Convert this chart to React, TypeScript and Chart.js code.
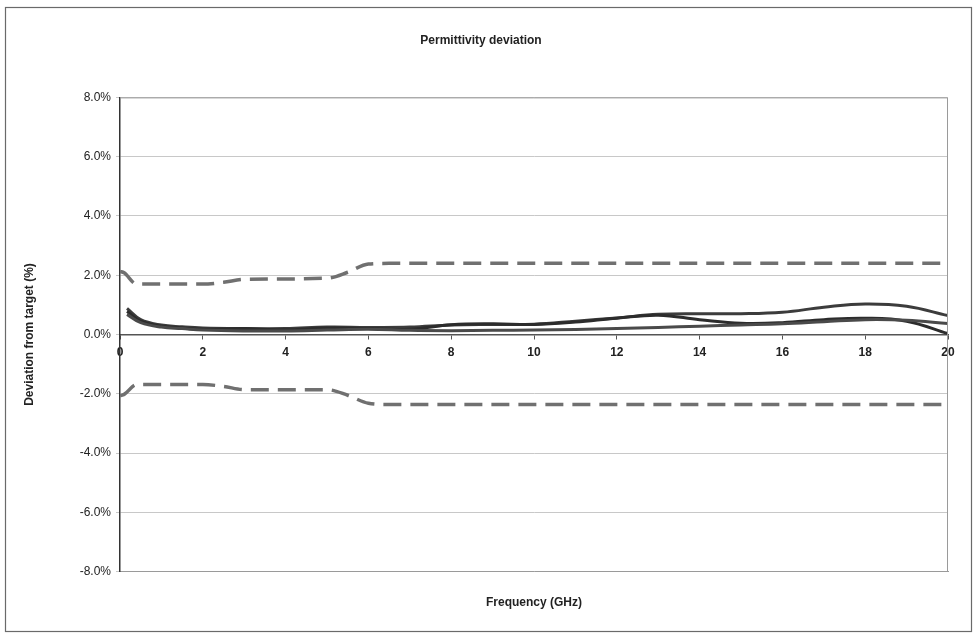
import React, { useEffect, useRef } from "react";
import { Chart, registerables } from "chart.js";

Chart.register(...registerables);

const FREQ = [0.17, 0.5, 1, 1.5, 2, 3, 4, 5, 6, 7, 8, 9, 10, 11, 12, 13, 14, 15, 16, 17, 18, 19, 20];
const SERIES_A = [0.88, 0.5, 0.32, 0.26, 0.22, 0.2, 0.2, 0.25, 0.24, 0.25, 0.32, 0.34, 0.35, 0.45, 0.56, 0.68, 0.7, 0.7, 0.75, 0.92, 1.03, 0.95, 0.64];
const SERIES_B = [0.78, 0.45, 0.28, 0.22, 0.18, 0.2, 0.16, 0.22, 0.2, 0.18, 0.33, 0.36, 0.34, 0.42, 0.55, 0.65, 0.5, 0.38, 0.4, 0.5, 0.55, 0.45, 0.03];
const SERIES_C = [0.68, 0.4, 0.25, 0.2, 0.15, 0.12, 0.12, 0.15, 0.18, 0.14, 0.13, 0.14, 0.15, 0.17, 0.2, 0.24, 0.28, 0.32, 0.36, 0.43, 0.5, 0.48, 0.37];

const LIMIT_FREQ = [0, 0.1, 0.4, 2, 2.5, 3, 5, 5.5, 6, 6.5, 20];
const UPPER_LIMIT = [2.13, 2.08, 1.7, 1.7, 1.76, 1.86, 1.9, 2.1, 2.38, 2.4, 2.4];
const LOWER_LIMIT = [-2.07, -2.02, -1.69, -1.69, -1.75, -1.86, -1.86, -2.05, -2.32, -2.36, -2.36];

const Y_MIN = -8;
const Y_MAX = 8;
const X_MIN = 0;
const X_MAX = 20;

const TITLE = "Permittivity deviation";
const X_TITLE = "Frequency (GHz)";
const Y_TITLE = "Deviation from target (%)";

const FONT = "'Liberation Sans', Arial, sans-serif";

function pts(xs: number[], ys: number[]) {
  return xs.map((x, i) => ({ x, y: ys[i] }));
}

const framePlugin = {
  id: "frame",
  beforeDraw(chart: any) {
    const { ctx } = chart;
    ctx.save();
    ctx.strokeStyle = "#6a6a6a";
    ctx.lineWidth = 1.2;
    ctx.strokeRect(5.5, 7.5, 966, 624);
    ctx.restore();
  },
  afterDatasetsDraw(chart: any) {
    const { ctx, chartArea } = chart;
    ctx.save();
    ctx.strokeStyle = "#9a9a9a";
    ctx.lineWidth = 1;
    ctx.beginPath();
    ctx.moveTo(chartArea.left, chartArea.top + 0.5);
    ctx.lineTo(chartArea.right - 0.5, chartArea.top + 0.5);
    ctx.lineTo(chartArea.right - 0.5, chartArea.bottom);
    ctx.stroke();
    ctx.restore();
  },
};

export default function App() {
  const ref = useRef<HTMLCanvasElement>(null);
  useEffect(() => {
    document.body.style.margin = "0";
    const solid = (data: number[], color: string) => ({
      data: pts(FREQ, data),
      borderColor: color,
      borderWidth: 3,
      pointRadius: 0,
      tension: 0.4,
      fill: false,
    });
    const dashed = (data: number[]) => ({
      data: pts(LIMIT_FREQ, data),
      borderColor: "#707070",
      borderWidth: 3.5,
      borderDash: [18, 9],
      pointRadius: 0,
      cubicInterpolationMode: "monotone" as const,
      fill: false,
    });
    const chart = new Chart(ref.current!, {
      type: "line",
      data: {
        datasets: [
          dashed(UPPER_LIMIT),
          dashed(LOWER_LIMIT),
          solid(SERIES_C, "#4a4a4a"),
          solid(SERIES_B, "#2c2c2c"),
          solid(SERIES_A, "#3c3c3c"),
        ] as any,
      },
      options: {
        animation: false,
        responsive: false,
        devicePixelRatio: 1,
        layout: { padding: { left: 14, right: 29, top: 0, bottom: 26 } },
        plugins: {
          legend: { display: false },
          tooltip: { enabled: false },
          title: {
            display: true,
            text: TITLE,
            color: "#222",
            font: { family: FONT, size: 12, weight: "bold" },
            padding: { top: 33, bottom: 50 },
          },
        },
        scales: {
          x: {
            type: "linear",
            min: X_MIN,
            max: X_MAX,
            position: { y: 0 } as any,
            ticks: {
              stepSize: 2,
              color: "#222",
              font: { family: FONT, size: 12, weight: "bold" },
              padding: 7,
              maxRotation: 0,
            },
            grid: { display: true, drawOnChartArea: false, tickLength: 4, color: "#555" },
            border: { display: true, color: "#555", width: 1.5 },
          },
          x2: {
            type: "linear",
            axis: "x",
            position: "bottom",
            min: X_MIN,
            max: X_MAX,
            ticks: { display: false },
            grid: { display: false },
            border: { display: true, color: "#9a9a9a", width: 1 },
            title: {
              display: true,
              text: X_TITLE,
              color: "#222",
              font: { family: FONT, size: 12, weight: "bold" },
              padding: { top: 16, bottom: 0 },
            },
          } as any,
          y: {
            type: "linear",
            min: Y_MIN,
            max: Y_MAX,
            ticks: {
              stepSize: 2,
              color: "#222",
              font: { family: FONT, size: 12 },
              padding: 5,
              callback: (v: any) => Number(v).toFixed(1) + "%",
            },
            grid: { color: "#c8c8c8", tickLength: 4, lineWidth: 1 },
            border: { display: true, color: "#333", width: 1.5 },
            title: {
              display: true,
              text: Y_TITLE,
              color: "#222",
              font: { family: FONT, size: 12, weight: "bold" },
              padding: { top: 8, bottom: 4 },
            },
            afterFit: (s: any) => {
              s.width = 106;
            },
          },
        },
      },
      plugins: [framePlugin],
    });
    return () => chart.destroy();
  }, []);
  return (
    <div style={{ width: 977, height: 636, background: "#fff" }}>
      <canvas ref={ref} width={977} height={636} style={{ display: "block" }} />
    </div>
  );
}
